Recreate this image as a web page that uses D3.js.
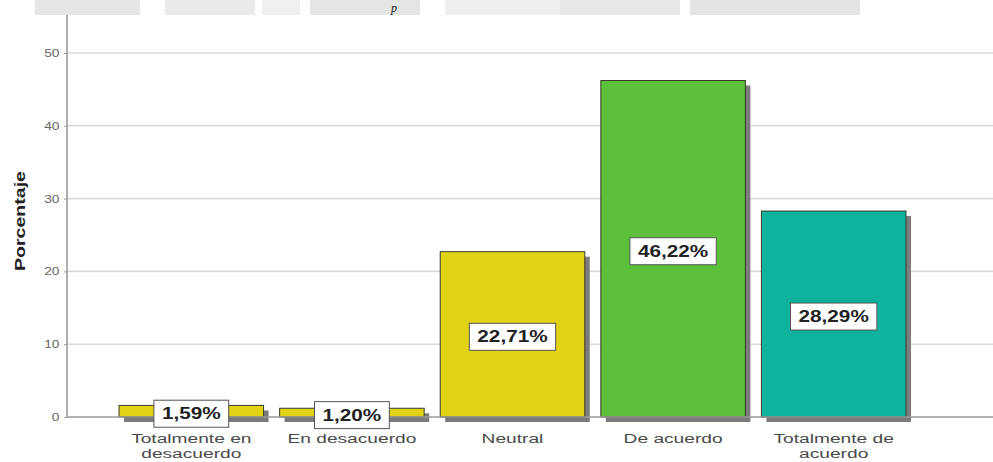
<!DOCTYPE html>
<html>
<head>
<meta charset="utf-8">
<script src="https://cdn.jsdelivr.net/npm/d3@7"></script>
<style>
  html, body { margin: 0; padding: 0; background: #fff; }
  svg { display: block; }
</style>
</head>
<body>
<svg id="chart" width="993" height="462"></svg>
<script>
// Response categories (Likert scale)
const categories = [
  ["Totalmente en", "desacuerdo"],
  ["En desacuerdo"],
  ["Neutral"],
  ["De acuerdo"],
  ["Totalmente de", "acuerdo"]
];
const percentages = [1.59, 1.20, 22.71, 46.22, 28.29];
const valueLabels = ["1,59%", "1,20%", "22,71%", "46,22%", "28,29%"];
const barColors = ["#e2d214", "#e2d214", "#e2d214", "#5cc03a", "#0db39d"];
const yTicks = [0, 10, 20, 30, 40, 50];
const yTitle = "Porcentaje";

const svg = d3.select("#chart");
const FONT = "Liberation Sans, Arial, sans-serif";
const SX = 1.22; // horizontal stretch of the value lettering

// widen a text element horizontally around its anchor point
function stretch(sel, ax, ay, sx) {
  sel.attr("transform", `translate(${ax},${ay}) scale(${sx},1) translate(${-ax},${-ay})`);
}

// Faint header strip above the plot
const header = svg.append("g");
[[35, 140, "#e4e7e4"], [165, 255, "#e9ebe9"], [262, 300, "#eff1ef"], [310, 420, "#e3e6e3"],
 [445, 560, "#eef0ee"], [560, 680, "#e6e8e6"], [690, 860, "#e2e5e2"]].forEach(([a, b, c]) => {
  header.append("rect").attr("x", a).attr("y", 0).attr("width", b - a).attr("height", 15).attr("fill", c);
});
header.append("text").attr("x", 391).attr("y", 12)
  .attr("font-family", "Liberation Serif, serif").attr("font-style", "italic")
  .attr("font-size", 12).attr("fill", "#111").text("p");

// Scales
const plotLeft = 67, plotRight = 993, plotTop = 15;
const y = d3.scaleLinear().domain([0, 50]).range([417, 53]);
const x = d3.scaleBand().domain(d3.range(categories.length))
  .range([111, 914]).paddingInner(0.1).paddingOuter(0.05);

// Gridlines
svg.append("g").selectAll("line").data(yTicks.filter(t => t > 0)).join("line")
  .attr("x1", plotLeft).attr("x2", plotRight)
  .attr("y1", d => y(d)).attr("y2", d => y(d))
  .attr("stroke", "#dadada").attr("stroke-width", 1.6);

// Y axis
const yAxis = svg.append("g").attr("transform", `translate(${plotLeft},0)`)
  .call(d3.axisLeft(y).tickValues(yTicks).tickSize(3).tickPadding(4));
yAxis.select(".domain").attr("d", `M0,${plotTop}V${y(0)}`).attr("stroke", "#9a9a9a").attr("stroke-width", 1.6);
yAxis.selectAll(".tick line").attr("stroke", "#9a9a9a");
yAxis.selectAll(".tick text").attr("font-family", FONT)
  .attr("font-size", 11).attr("fill", "#666")
  .attr("x", -6).attr("transform", "scale(1.25,1)");

// Axis title
svg.append("text")
  .attr("transform", `translate(25,221) rotate(-90)`)
  .attr("text-anchor", "middle")
  .attr("font-family", FONT)
  .attr("font-weight", "bold").attr("font-size", 15).attr("fill", "#222")
  .attr("textLength", 100).attr("lengthAdjust", "spacingAndGlyphs")
  .text(yTitle);

// Bars with drop shadows
const bars = svg.append("g");
bars.selectAll("rect.shadow").data(percentages).join("rect")
  .attr("class", "shadow")
  .attr("x", (d, i) => x(i) + 5).attr("y", d => y(d) + 5)
  .attr("width", x.bandwidth()).attr("height", d => y(0) - y(d))
  .attr("fill", "#7b7b7b");
bars.selectAll("rect.bar").data(percentages).join("rect")
  .attr("class", "bar")
  .attr("x", (d, i) => x(i)).attr("y", d => y(d))
  .attr("width", x.bandwidth()).attr("height", d => y(0) - y(d))
  .attr("fill", (d, i) => barColors[i])
  .attr("stroke", "#3a3a2a").attr("stroke-width", 1);

// Baseline
svg.append("line").attr("x1", plotLeft).attr("x2", plotRight)
  .attr("y1", y(0)).attr("y2", y(0)).attr("stroke", "#9a9a9a").attr("stroke-width", 1.6);

// Value labels in boxes
const labels = svg.append("g");
percentages.forEach((v, i) => {
  const cx = x(i) + x.bandwidth() / 2;
  const cy = (y(v) + y(0)) / 2 + 2;
  const g = labels.append("g");
  const t = g.append("text")
    .attr("x", cx).attr("y", cy + 6)
    .attr("text-anchor", "middle")
    .attr("font-family", FONT)
    .attr("font-weight", "bold").attr("font-size", 17).attr("fill", "#222")
    .text(valueLabels[i]);
  const w = t.node().getBBox().width * SX;
  stretch(t, cx, cy, SX);
  g.insert("rect", "text")
    .attr("x", cx - w / 2 - 8).attr("y", cy - 13)
    .attr("width", w + 16).attr("height", 27)
    .attr("fill", "#fff").attr("stroke", "#555").attr("stroke-width", 1);
});

// Category labels, one text per line
const cat = svg.append("g");
categories.forEach((lines, i) => {
  const cx = x(i) + x.bandwidth() / 2;
  lines.forEach((s, k) => {
    const ly = 443 + k * 15;
    const t = cat.append("text")
      .attr("x", cx).attr("y", ly)
      .attr("text-anchor", "middle")
      .attr("font-family", FONT)
      .attr("font-size", 13.5).attr("fill", "#4a4a4a")
      .text(s);
    stretch(t, cx, ly, 1.42);
  });
});
</script>
</body>
</html>
